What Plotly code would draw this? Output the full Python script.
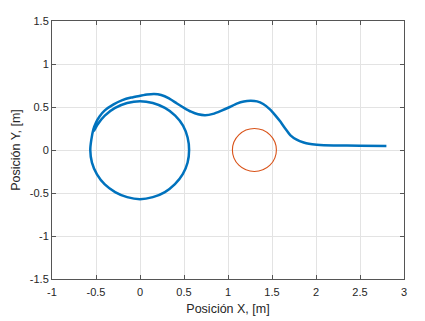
import plotly.graph_objects as go

# Trajectory: approach from the right, then loop around the circle near the origin
path_x = [2.80, 2.50, 2.20, 2.01, 1.92, 1.86, 1.78, 1.71, 1.65, 1.595, 1.54, 1.48, 1.40, 1.33, 1.26, 1.18, 1.10, 1.02, 0.92, 0.83, 0.74, 0.66, 0.58, 0.50, 0.42, 0.33, 0.24, 0.16, 0.08, 0.0, -0.10, -0.20, -0.30, -0.40, -0.46, -0.50, -0.53]
path_y = [0.047, 0.050, 0.053, 0.062, 0.072, 0.087, 0.12, 0.17, 0.25, 0.33, 0.40, 0.47, 0.535, 0.565, 0.572, 0.565, 0.54, 0.50, 0.455, 0.42, 0.405, 0.415, 0.445, 0.49, 0.54, 0.60, 0.64, 0.652, 0.645, 0.63, 0.61, 0.58, 0.53, 0.46, 0.39, 0.32, 0.24]
loop_x = [-0.553, -0.565, -0.546, -0.489, -0.400, -0.283, -0.146, 0.0, 0.146, 0.283, 0.397, 0.486, 0.541, 0.558, 0.541, 0.489, 0.400, 0.283, 0.146, 0.0, -0.146, -0.283, -0.400, -0.480, -0.525]
loop_y = [0.12, 0.0, -0.146, -0.283, -0.400, -0.489, -0.548, -0.572, -0.548, -0.489, -0.397, -0.281, -0.145, 0.0, 0.145, 0.283, 0.400, 0.489, 0.546, 0.568, 0.546, 0.489, 0.400, 0.300, 0.22]

# Obstacle circle
obs_cx = 1.30
obs_cy = 0.0
obs_r = 0.25

x_ticks = [-1, -0.5, 0, 0.5, 1, 1.5, 2, 2.5, 3]
x_labels = ["-1", "-0.5", "0", "0.5", "1", "1.5", "2", "2.5", "3"]
y_ticks = [-1.5, -1, -0.5, 0, 0.5, 1, 1.5]
y_labels = ["-1.5", "-1", "-0.5", "0", "0.5", "1", "1.5"]

FONT = "Liberation Sans, Arial"

fig = go.Figure()
fig.add_trace(go.Scatter(x=path_x + loop_x, y=path_y + loop_y, mode="lines",
                         line=dict(color="#0072BD", width=2.5, shape="spline", smoothing=0.5),
                         showlegend=False, hoverinfo="skip"))
fig.add_shape(type="circle", xref="x", yref="y",
              x0=obs_cx - obs_r, x1=obs_cx + obs_r, y0=obs_cy - obs_r, y1=obs_cy + obs_r,
              line=dict(color="#D95319", width=1.1))

axis_common = dict(showgrid=True, gridcolor="#e3e3e3", gridwidth=1, zeroline=False,
                   showline=True, linecolor="#555555", linewidth=1, mirror="ticks",
                   ticks="inside", ticklen=4, tickcolor="#555555",
                   tickfont=dict(family=FONT, size=11, color="#262626"))
fig.update_xaxes(range=[-1, 3], tickvals=x_ticks, ticktext=x_labels, ticklabelstandoff=3,
                 title=dict(text="Posición X, [m]", font=dict(family=FONT, size=12.5, color="#262626"), standoff=7),
                 **axis_common)
fig.update_yaxes(range=[-1.5, 1.5], tickvals=y_ticks, ticktext=y_labels,
                 title=dict(text="Posición Y, [m]", font=dict(family=FONT, size=12.5, color="#262626"), standoff=6),
                 **axis_common)
fig.update_layout(width=417, height=313, margin=dict(l=43, r=21, t=7, b=41),
                  plot_bgcolor="white", paper_bgcolor="white")
fig.write_html("out.html")
